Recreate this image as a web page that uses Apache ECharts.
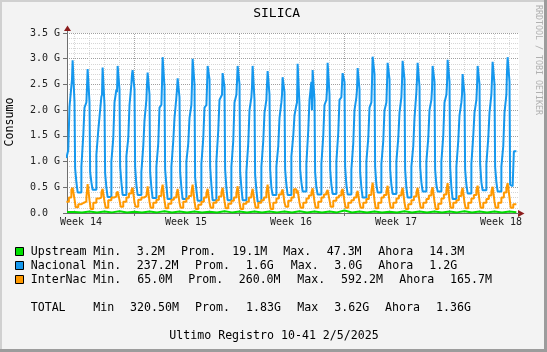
<!DOCTYPE html>
<html>
<head>
<meta charset="utf-8">
<script src="https://cdn.jsdelivr.net/npm/echarts@6/dist/echarts.min.js"></script>
<style>
  html, body { margin: 0; padding: 0; background: #f3f3f3; }
  #chart { width: 547px; height: 352px; }
</style>
</head>
<body>
<div id="chart"></div>
<script>
// time axis in hours from the left edge of the plot, values in G
var spanHours = 723.2;
var weekLabels = ['Week 14', 'Week 15', 'Week 16', 'Week 17', 'Week 18'];
var weekLabelHours = [22.4, 190.4, 358.4, 526.4, 694.4];
var weekLineHours = [108, 276, 444, 612];

// Nacional: one row per day, value held from each step hour (relative to the day start)
var nacionalSteps = [-1, 2, 4, 7, 8, 9, 12, 13, 15, 17];
var nacional = [
  [1.07, 1.22, 2.07, 2.10, 2.60, 2.97, 2.16, 0.87, 0.60, 0.40],
  [0.90, 1.50, 2.05, 2.15, 2.45, 2.80, 2.15, 0.80, 0.60, 0.45],
  [1.13, 1.60, 1.87, 2.26, 2.30, 2.83, 2.10, 0.78, 0.50, 0.31],
  [1.00, 1.45, 2.15, 2.40, 2.35, 2.86, 2.40, 0.90, 0.60, 0.35],
  [1.10, 1.45, 2.10, 2.50, 2.70, 2.78, 2.40, 0.90, 0.55, 0.35],
  [0.80, 1.30, 1.80, 2.20, 2.50, 2.73, 2.30, 0.80, 0.50, 0.29],
  [0.90, 1.35, 2.05, 2.10, 2.50, 3.03, 2.45, 0.85, 0.55, 0.27],
  [0.90, 1.40, 1.85, 2.25, 2.40, 2.62, 2.25, 0.80, 0.50, 0.27],
  [1.00, 1.35, 1.85, 2.10, 2.50, 3.00, 2.50, 0.70, 0.45, 0.24],
  [0.95, 1.45, 2.05, 2.10, 2.45, 2.86, 2.60, 0.90, 0.55, 0.25],
  [1.00, 1.60, 2.20, 2.20, 2.30, 2.72, 2.45, 0.85, 0.50, 0.25],
  [0.90, 1.40, 2.15, 2.30, 2.55, 2.86, 2.50, 0.80, 0.50, 0.25],
  [0.80, 1.35, 2.00, 2.25, 2.45, 2.86, 2.20, 0.75, 0.45, 0.22],
  [0.90, 1.40, 1.95, 2.20, 2.50, 2.76, 2.30, 0.85, 0.50, 0.35],
  [0.90, 1.30, 1.85, 2.15, 2.30, 2.64, 2.35, 0.85, 0.55, 0.35],
  [1.10, 1.50, 1.90, 2.10, 2.15, 2.90, 2.10, 0.85, 0.60, 0.42],
  [0.95, 1.60, 2.20, 2.55, 2.00, 2.78, 2.20, 0.80, 0.50, 0.36],
  [0.95, 1.50, 2.10, 2.20, 2.40, 2.92, 2.30, 0.85, 0.55, 0.37],
  [1.00, 1.55, 2.20, 2.25, 2.50, 2.72, 2.55, 0.90, 0.55, 0.36],
  [0.85, 1.35, 2.00, 2.25, 2.40, 2.82, 2.40, 0.80, 0.50, 0.30],
  [1.00, 1.45, 2.05, 2.15, 2.55, 3.04, 2.70, 0.90, 0.55, 0.40],
  [0.95, 1.40, 2.00, 2.15, 2.50, 2.92, 2.60, 0.85, 0.55, 0.37],
  [1.00, 1.45, 1.95, 2.25, 2.55, 2.96, 2.60, 0.85, 0.50, 0.30],
  [0.90, 1.30, 1.85, 2.35, 2.60, 2.92, 2.45, 0.90, 0.60, 0.42],
  [1.00, 1.45, 2.00, 2.20, 2.40, 2.86, 2.55, 0.85, 0.55, 0.42],
  [1.00, 1.50, 2.15, 2.30, 2.50, 2.98, 2.55, 0.90, 0.50, 0.27],
  [0.90, 1.40, 1.90, 2.15, 2.30, 2.70, 2.30, 0.85, 0.55, 0.38],
  [0.95, 1.50, 1.95, 2.20, 2.45, 2.86, 2.50, 0.95, 0.60, 0.44],
  [0.95, 1.45, 1.95, 2.30, 2.60, 2.94, 2.50, 0.90, 0.60, 0.42],
  [0.90, 1.30, 1.95, 2.30, 2.75, 3.03, 2.55, 0.55, 0.52, 0.52]
];
var nacionalTail = [[715, 1.20], [719, 1.20]];

// InterNac: same layout, fewer steps per day
var internacSteps = [-1, 3, 7, 9, 12, 14, 18];
var internac = [
  [0.22, 0.30, 0.45, 0.49, 0.27, 0.11, 0.17],
  [0.20, 0.22, 0.30, 0.56, 0.25, 0.08, 0.20],
  [0.28, 0.30, 0.40, 0.47, 0.22, 0.10, 0.25],
  [0.30, 0.32, 0.38, 0.42, 0.25, 0.12, 0.22],
  [0.30, 0.38, 0.44, 0.49, 0.20, 0.12, 0.26],
  [0.30, 0.33, 0.36, 0.52, 0.22, 0.10, 0.20],
  [0.26, 0.33, 0.42, 0.55, 0.24, 0.09, 0.18],
  [0.26, 0.30, 0.35, 0.47, 0.20, 0.10, 0.22],
  [0.28, 0.33, 0.40, 0.55, 0.22, 0.08, 0.16],
  [0.22, 0.30, 0.38, 0.47, 0.20, 0.10, 0.20],
  [0.25, 0.32, 0.40, 0.49, 0.23, 0.09, 0.18],
  [0.24, 0.30, 0.38, 0.52, 0.20, 0.08, 0.18],
  [0.22, 0.30, 0.36, 0.47, 0.22, 0.10, 0.20],
  [0.25, 0.30, 0.40, 0.55, 0.22, 0.08, 0.20],
  [0.28, 0.36, 0.40, 0.46, 0.20, 0.12, 0.24],
  [0.30, 0.46, 0.38, 0.44, 0.20, 0.10, 0.20],
  [0.28, 0.34, 0.40, 0.48, 0.22, 0.10, 0.22],
  [0.30, 0.36, 0.40, 0.45, 0.25, 0.12, 0.24],
  [0.30, 0.34, 0.42, 0.47, 0.22, 0.10, 0.20],
  [0.25, 0.30, 0.36, 0.43, 0.20, 0.10, 0.20],
  [0.27, 0.35, 0.42, 0.59, 0.24, 0.09, 0.20],
  [0.30, 0.35, 0.42, 0.53, 0.22, 0.10, 0.20],
  [0.28, 0.34, 0.40, 0.49, 0.20, 0.08, 0.17],
  [0.25, 0.32, 0.40, 0.49, 0.22, 0.10, 0.20],
  [0.27, 0.34, 0.42, 0.50, 0.22, 0.08, 0.18],
  [0.28, 0.36, 0.44, 0.58, 0.24, 0.10, 0.20],
  [0.25, 0.33, 0.40, 0.49, 0.20, 0.09, 0.20],
  [0.28, 0.35, 0.44, 0.53, 0.24, 0.10, 0.20],
  [0.27, 0.34, 0.42, 0.51, 0.22, 0.10, 0.20],
  [0.30, 0.40, 0.48, 0.58, 0.30, 0.10, 0.17]
];
var internacTail = [[719, 0.17]];

// Upstream: one value every 12 hours
var upstream = [
  0.020, 0.012, 0.030, 0.010, 0.028, 0.012, 0.032, 0.010, 0.025, 0.008,
  0.030, 0.012, 0.035, 0.010, 0.028, 0.009, 0.030, 0.011, 0.026, 0.010,
  0.033, 0.012, 0.029, 0.010, 0.030, 0.008, 0.027, 0.012, 0.031, 0.010,
  0.034, 0.011, 0.028, 0.009, 0.030, 0.012, 0.047, 0.010, 0.029, 0.011,
  0.030, 0.012, 0.026, 0.010, 0.032, 0.009, 0.028, 0.011, 0.030, 0.010,
  0.027, 0.012, 0.033, 0.010, 0.029, 0.011, 0.031, 0.010, 0.028, 0.014
];

var legendRows = [
  { color: '#00e000', y: 252, parts: [[30.7, 'Upstream'], [93.3, 'Min.'], [136.7, '3.2M'], [181, 'Prom.'], [232.3, '19.1M'], [283.3, 'Max.'], [326.7, '47.3M'], [378.3, 'Ahora'], [429.3, '14.3M']] },
  { color: '#1598ee', y: 266, parts: [[30.7, 'Nacional'], [93.3, 'Min.'], [136.7, '237.2M'], [195, 'Prom.'], [245.7, '1.6G'], [290.7, 'Max.'], [334.3, '3.0G'], [378.3, 'Ahora'], [429.3, '1.2G']] },
  { color: '#ff9900', y: 280, parts: [[30.7, 'InterNac'], [93.3, 'Min.'], [137.3, '65.0M'], [188.3, 'Prom.'], [238.7, '260.0M'], [297.3, 'Max.'], [341, '592.2M'], [399.3, 'Ahora'], [450, '165.7M']] },
  { color: null, y: 308, parts: [[30.7, 'TOTAL'], [93.3, 'Min'], [130, '320.50M'], [195, 'Prom.'], [246, '1.83G'], [297.3, 'Max'], [334.3, '3.62G'], [385, 'Ahora'], [436, '1.36G']] },
  { color: null, y: 336, parts: [[169.3, 'Ultimo Registro 10-41 2/5/2025']] }
];

function dailySteps(rows, steps, tail) {
  var out = [];
  rows.forEach(function (row, day) {
    row.forEach(function (v, i) { out.push([day * 24 + steps[i], v]); });
  });
  return out.concat(tail);
}

var mono = '"DejaVu Sans Mono", monospace';
var chart = echarts.init(document.getElementById('chart'));

// vertical grid: dotted line every day, darker one every week
var gridLines = [];
for (var h = 12; h < spanHours; h += 24) {
  if (weekLineHours.indexOf(h) < 0) {
    gridLines.push({ xAxis: h, lineStyle: { color: '#d6d6d6', type: 'dotted', width: 1 } });
  }
}
weekLineHours.forEach(function (h) {
  gridLines.push({ xAxis: h, lineStyle: { color: '#a8a8a8', type: 'dotted', width: 1 } });
});

var graphics = [
  { type: 'rect', shape: { x: 0, y: 0, width: 547, height: 2 }, style: { fill: '#d0d0d0' }, silent: true },
  { type: 'rect', shape: { x: 0, y: 0, width: 2, height: 352 }, style: { fill: '#d0d0d0' }, silent: true },
  { type: 'rect', shape: { x: 0, y: 349, width: 547, height: 3 }, style: { fill: '#9c9c9c' }, silent: true },
  { type: 'rect', shape: { x: 544, y: 0, width: 3, height: 352 }, style: { fill: '#9c9c9c' }, silent: true },
  // axis arrows
  { type: 'line', shape: { x1: 67.5, y1: 30, x2: 67.5, y2: 33 }, style: { stroke: '#6e6e6e', lineWidth: 1 }, silent: true },
  { type: 'polygon', shape: { points: [[67.5, 25.5], [64, 31], [71, 31]] }, style: { fill: '#8c1c1c' }, silent: true },
  { type: 'polygon', shape: { points: [[524.5, 213.5], [518, 210], [518, 217]] }, style: { fill: '#8c1c1c' }, silent: true },
  { type: 'text', x: 276.7, y: 14, style: { text: 'SILICA', font: '13px ' + mono, fill: '#000', align: 'center', verticalAlign: 'middle' }, silent: true },
  { type: 'text', x: 10, y: 122, rotation: Math.PI / 2, style: { text: 'Consumo', font: '11.6px ' + mono, fill: '#000', align: 'center', verticalAlign: 'middle' }, silent: true },
  { type: 'text', x: 538, y: 60, rotation: -Math.PI / 2, style: { text: 'RRDTOOL / TOBI OETIKER', font: '8.3px ' + mono, fill: '#b0b0b0', align: 'center', verticalAlign: 'middle' }, silent: true }
];
legendRows.forEach(function (row) {
  if (row.color) {
    graphics.push({ type: 'rect', shape: { x: 15.5, y: row.y - 4.5, width: 8, height: 8 }, style: { fill: row.color, stroke: '#000', lineWidth: 1 }, silent: true });
  }
  row.parts.forEach(function (p) {
    graphics.push({ type: 'text', x: p[0], y: row.y, style: { text: p[1], font: '11.6px ' + mono, fill: '#000', align: 'left', verticalAlign: 'middle' }, silent: true });
  });
});

var option = {
  animation: false,
  backgroundColor: '#f3f3f3',
  grid: { left: 67, right: 28, top: 33, bottom: 139, show: true, backgroundColor: '#ffffff', borderWidth: 0 },
  xAxis: {
    type: 'value',
    min: 0,
    max: spanHours,
    axisLine: { show: true, lineStyle: { color: '#6e6e6e', width: 1 } },
    axisTick: { show: true, customValues: weekLineHours, length: 3, lineStyle: { color: '#6e6e6e' } },
    axisLabel: {
      customValues: weekLabelHours,
      formatter: function (v) {
        var i = weekLabelHours.indexOf(v);
        return i >= 0 ? weekLabels[i] : '';
      },
      fontFamily: mono, fontSize: 10, color: '#222', margin: 4
    },
    splitLine: { show: false }
  },
  yAxis: {
    type: 'value',
    min: 0,
    max: 3.5,
    interval: 0.5,
    axisLine: { show: true, lineStyle: { color: '#6e6e6e', width: 1 } },
    axisTick: { show: true, length: 4, lineStyle: { color: '#6e6e6e' } },
    axisLabel: {
      formatter: function (v) { return v === 0 ? '0.0' : v.toFixed(1) + ' G'; },
      align: 'left', margin: 37, fontFamily: mono, fontSize: 10, color: '#222'
    },
    splitLine: { show: true, lineStyle: { color: '#a0a0a0', type: 'dotted', width: 1 } },
    minorTick: { show: false, splitNumber: 5 },
    minorSplitLine: { show: true, lineStyle: { color: '#d6d6d6', type: 'dotted', width: 1 } }
  },
  graphic: graphics,
  series: [
    {
      name: 'grid', type: 'line', data: [], z: 1, silent: true,
      markLine: { z: 1, silent: true, symbol: 'none', animation: false, label: { show: false }, emphasis: { disabled: true }, data: gridLines }
    },
    {
      name: 'Upstream', type: 'line', step: 'end', showSymbol: false, z: 3,
      data: upstream.map(function (v, i) { return [i * 12, v]; }).concat([[719, 0.014]]),
      lineStyle: { color: '#00dd00', width: 2 }
    },
    {
      name: 'Nacional', type: 'line', step: 'end', showSymbol: false, z: 4,
      data: dailySteps(nacional, nacionalSteps, nacionalTail),
      lineStyle: { color: '#1598ee', width: 2 }
    },
    {
      name: 'InterNac', type: 'line', step: 'end', showSymbol: false, z: 5,
      data: dailySteps(internac, internacSteps, internacTail),
      lineStyle: { color: '#ff9900', width: 2 }
    }
  ]
};
chart.setOption(option);
</script>
</body>
</html>
